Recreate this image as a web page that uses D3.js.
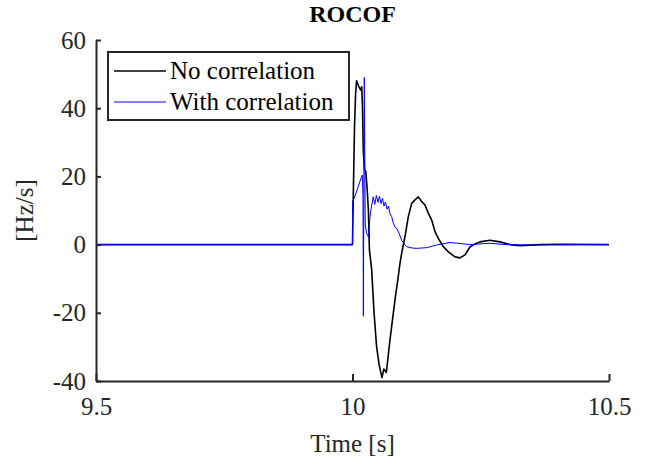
<!DOCTYPE html>
<html>
<head>
<meta charset="utf-8">
<script src="https://cdn.jsdelivr.net/npm/d3@7"></script>
<style>
  html, body { margin: 0; padding: 0; background: #fff; }
  svg { display: block; }
  text { font-family: "Liberation Serif", "Times New Roman", serif; }
</style>
</head>
<body>
<svg id="chart" width="649" height="465"></svg>
<script>
// ---- Data ----
const seriesNames = ["No correlation", "With correlation"];
const xTicks = [9.5, 10, 10.5];
const yTicks = [-40, -20, 0, 20, 40, 60];

const noCorrTime = [9.5, 10.0, 10.0016, 10.004, 10.006, 10.008, 10.012, 10.016, 10.018, 10.0195, 10.021,
  10.0234, 10.026, 10.0287, 10.031, 10.033, 10.0374, 10.042, 10.047, 10.052, 10.0575, 10.061, 10.066,
  10.073, 10.078, 10.083, 10.0887, 10.0926, 10.0965, 10.1023, 10.1088, 10.1154, 10.1218, 10.1283,
  10.1349, 10.1413, 10.1478, 10.1544, 10.1608, 10.1673, 10.177, 10.1868, 10.1998, 10.2096, 10.2193,
  10.229, 10.2388, 10.2485, 10.268, 10.2875, 10.307, 10.3265, 10.3655, 10.4045, 10.5];
const noCorrValue = [0, 0, 15, 35, 44, 48, 46.5, 45.3, 46.3, 40, 27.7,
  22, 21.4, 16, 10, -1.6, -7.4, -20, -30, -35.3, -39, -36.5, -37.5,
  -28, -22, -16, -10, -5.4, -2, 2.3, 8.2, 12.1, 13.1, 14,
  12.6, 11.6, 9.2, 7.2, 3.8, 1.8, -0.6, -2.1, -3.6, -3.9, -3,
  -0.7, 0.2, 0.8, 1.3, 0.8, 0, -0.3, 0, 0.1, 0];

const withCorrTime = [9.5, 10.0, 10.0002, 10.005, 10.0107, 10.0146, 10.019, 10.0205, 10.0212, 10.023,
  10.0248, 10.0273, 10.0312, 10.034, 10.0374, 10.0404, 10.0434, 10.0466, 10.0497, 10.0526, 10.0556,
  10.0585, 10.0614, 10.0643, 10.0673, 10.0702, 10.0731, 10.0764, 10.0795, 10.0828, 10.0867, 10.0906,
  10.0959, 10.1004, 10.1057, 10.116, 10.1251, 10.1446, 10.1641, 10.19, 10.2057, 10.229, 10.2485,
  10.268, 10.2973, 10.346, 10.5];
const withCorrValue = [0, 0, 12.6, 14.3, 16.8, 18.6, 20.4, 14, -21, 49,
  6, 3.5, 2.2, 8, 11.6, 14, 11.8, 14.4, 12.4, 14.2, 12,
  13.6, 11.3, 12.5, 10.4, 11.3, 9, 8.2, 6.3, 5.2, 4.6, 3.4,
  1.3, 0.2, -0.6, -1, -1.1, -0.9, -0.1, 0.6, 0.4, 0, 0.2,
  0.4, 0, -0.1, 0];

// ---- Layout ----
const svg = d3.select("#chart");
const plotLeft = 96, plotRight = 609, plotTop = 40, plotBottom = 381;
const axisColor = "#262626";
const fontSize = 25;

const x = d3.scaleLinear().domain([9.5, 10.5]).range([plotLeft, plotRight]);
const y = d3.scaleLinear().domain([-40, 60]).range([plotBottom, plotTop]);

// Lines
const line = d3.line().x(d => x(d[0])).y(d => y(d[1]));
const blackData = noCorrTime.map((t, i) => [t, noCorrValue[i]]);
const blueData = withCorrTime.map((t, i) => [t, withCorrValue[i]]);

svg.append("path").datum(blackData).attr("d", line)
  .attr("fill", "none").attr("stroke", "#000").attr("stroke-width", 1.6)
  .attr("stroke-linejoin", "round");
svg.append("path").datum(blueData).attr("d", line)
  .attr("fill", "none").attr("stroke", "#0000ff").attr("stroke-width", 1)
  .attr("stroke-linejoin", "round");

// Axes
const fmt = d => String(d);
const xAxis = d3.axisBottom(x).tickValues(xTicks).tickSizeInner(-7).tickSizeOuter(0)
  .tickPadding(16).tickFormat(fmt);
const gx = svg.append("g").attr("transform", `translate(0,${plotBottom})`).call(xAxis);
const yAxis = d3.axisLeft(y).tickValues(yTicks).tickSizeInner(-5).tickSizeOuter(0)
  .tickPadding(10).tickFormat(fmt);
const gy = svg.append("g").attr("transform", `translate(${plotLeft},0)`).call(yAxis);

[gx, gy].forEach(g => {
  g.select(".domain").attr("stroke", axisColor).attr("stroke-width", 2);
  g.selectAll(".tick line").attr("stroke", axisColor).attr("stroke-width", 2);
  g.selectAll(".tick text").attr("fill", axisColor)
    .style("font-family", '"Liberation Serif", serif').style("font-size", fontSize + "px");
});

// Title
svg.append("text").attr("x", (plotLeft + plotRight) / 2).attr("y", 22)
  .attr("text-anchor", "middle").attr("font-weight", "bold").attr("font-size", 24)
  .attr("fill", "#000").text("ROCOF");

// Axis labels
svg.append("text").attr("x", (plotLeft + plotRight) / 2).attr("y", 452)
  .attr("text-anchor", "middle").attr("font-size", fontSize).attr("fill", axisColor)
  .text("Time [s]");
svg.append("text").attr("transform", `translate(33,${(plotTop + plotBottom) / 2}) rotate(-90)`)
  .attr("text-anchor", "middle").attr("font-size", fontSize).attr("fill", axisColor)
  .text("[Hz/s]");

// Legend
const lg = svg.append("g");
lg.append("rect").attr("x", 108).attr("y", 52).attr("width", 241).attr("height", 68)
  .attr("fill", "#fff").attr("stroke", axisColor).attr("stroke-width", 2);
const legendColors = ["#000", "#0000ff"];
const legendWidths = [1.6, 1];
seriesNames.forEach((name, i) => {
  const yy = 71 + i * 31;
  lg.append("line").attr("x1", 114).attr("x2", 166).attr("y1", yy).attr("y2", yy)
    .attr("stroke", legendColors[i]).attr("stroke-width", legendWidths[i]);
  lg.append("text").attr("x", 170).attr("y", yy + 8).attr("font-size", fontSize)
    .attr("fill", "#000").text(name);
});
</script>
</body>
</html>
